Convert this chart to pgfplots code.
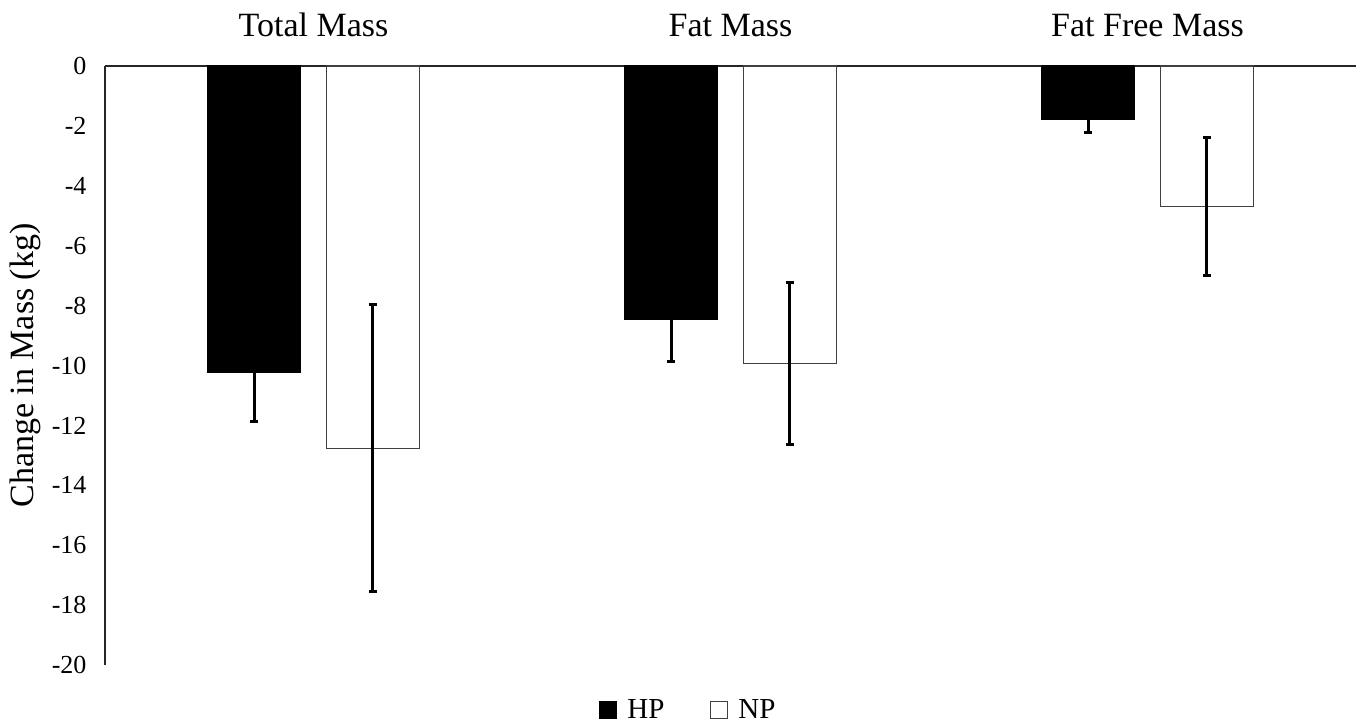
\documentclass[border=0pt]{standalone}
\usepackage{pgfplots}
\pgfplotsset{compat=1.18}
\usepackage{fontspec}
\setmainfont{Liberation Serif}
\begin{document}
\begin{tikzpicture}[x=1bp,y=1bp]
\path[use as bounding box] (-105bp,-60bp) rectangle (1256bp,665bp);
\begin{axis}[
  at={(0,0)}, anchor=south west,
  scale only axis,
  width=1251bp, height=599bp,
  xmin=-0.5, xmax=2.5,
  ymin=-20, ymax=0,
  axis x line*=top,
  axis y line*=left,
  axis line style={line width=1.2bp, black!85},
  major tick length=0pt,
  xtick={0,1,2},
  xticklabels={Total Mass, Fat Mass, Fat Free Mass},
  xticklabel style={font=\fontsize{34bp}{40bp}\selectfont, anchor=base, yshift=29bp},
  ytick={-20,-18,...,0},
  yticklabels={-20,-18,-16,-14,-12,-10,-8,-6,-4,-2,0},
  yticklabel style={font=\fontsize{26bp}{30bp}\selectfont, anchor=east, xshift=-15bp},
  ylabel={Change in Mass (kg)},
  ylabel style={font=\fontsize{34bp}{40bp}\selectfont, at={(axis description cs:-0.064,0.5)}, anchor=center},
  ybar=25.6bp,
  bar width=93bp,
  legend columns=2,
  legend style={draw=none, fill=none, at={(axis description cs:0.4664,-0.0751)}, anchor=center,
    font=\fontsize{29bp}{34bp}\selectfont,
    /tikz/every odd column/.append style={column sep=8bp},
    /tikz/every even column/.append style={column sep=44bp},
    inner sep=0pt},
  legend image code/.code={\draw[#1, line width=1bp] (0bp,-8.5bp) rectangle (17bp,8.5bp);},
  error bars/y dir=both,
  error bars/y explicit,
  error bars/error bar style={line width=3bp, black},
  error bars/error mark options={rotate=90, mark size=3.8bp, line width=3bp, black},
]
\addplot[fill=black, draw=black, line width=1bp] coordinates {
  (0,-10.22) +- (0,1.65)
  (1,-8.47) +- (0,1.39)
  (2,-1.80) +- (0,0.41)
};
\addplot[fill=white, draw=black!75, line width=1.2bp] coordinates {
  (0,-12.76) +- (0,4.78)
  (1,-9.94) +- (0,2.70)
  (2,-4.69) +- (0,2.31)
};
\legend{HP, NP}
\end{axis}
\end{tikzpicture}
\end{document}
